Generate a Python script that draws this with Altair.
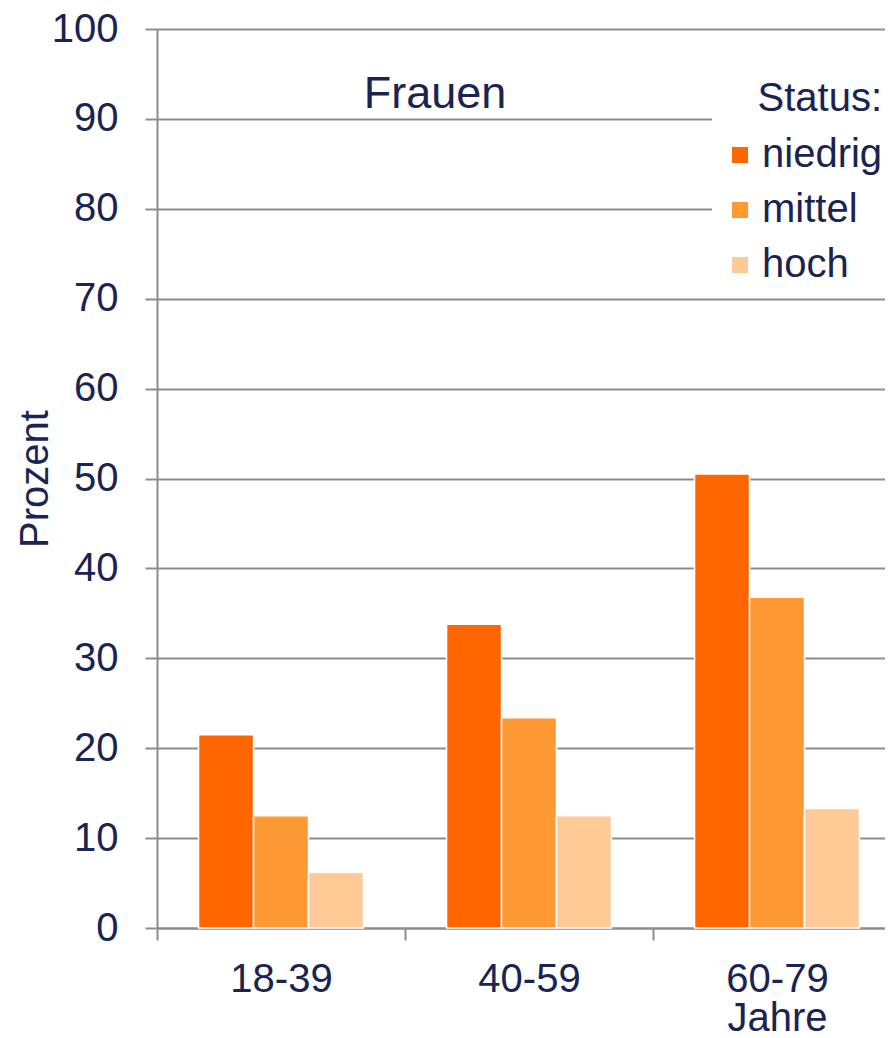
import altair as alt
import pandas as pd

groups = ["18-39", "40-59", "60-79"]
status = ["niedrig", "mittel", "hoch"]
niedrig = [21.5, 33.8, 50.5]
mittel = [12.5, 23.4, 36.8]
hoch = [6.2, 12.5, 13.3]
colors = ["#FF6600", "#FF9933", "#FFCA96"]
y_ticks = list(range(0, 101, 10))

rows = []
for i, g in enumerate(groups):
    for s, vals in zip(status, [niedrig, mittel, hoch]):
        rows.append({"Alter": g, "Status": s, "Prozent": vals[i]})
df = pd.DataFrame(rows)

TXT = "#1a2351"
GRID = "#8c8c8c"
FONT = "Liberation Sans"

bars = alt.Chart(df).mark_bar(stroke="white", strokeWidth=1.5).encode(
    x=alt.X(
        "Alter:N",
        sort=groups,
        scale=alt.Scale(paddingInner=0, paddingOuter=0),
        axis=alt.Axis(
            title=None,
            labelAngle=0,
            tickBand="extent",
            labelExpr="datum.value == '60-79' ? ['60-79', 'Jahre'] : datum.label",
            labelLineHeight=39,
            labelPadding=19,
            grid=False,
        ),
    ),
    xOffset=alt.XOffset(
        "Status:N", sort=status, scale=alt.Scale(paddingInner=0, paddingOuter=0.756)
    ),
    y=alt.Y(
        "Prozent:Q",
        scale=alt.Scale(domain=[0, 100]),
        axis=alt.Axis(
            values=y_ticks,
            title="Prozent",
            labelPadding=27,
            titlePadding=-4,
            grid=True,
        ),
    ),
    color=alt.Color(
        "Status:N",
        sort=status,
        scale=alt.Scale(domain=status, range=colors),
        legend=alt.Legend(
            title="Status:",
            orient="none",
            legendX=555,
            legendY=42,
            symbolType="square",
            symbolSize=256,
            symbolStrokeWidth=0,
            labelFontSize=40,
            titleFontSize=40,
            titleFontWeight="normal",
            titleAnchor="end",
            titlePadding=16,
            rowPadding=15,
            labelOffset=2,
            padding=8,
            fillColor="white",
            labelColor=TXT,
            titleColor=TXT,
            labelFont=FONT,
            titleFont=FONT,
        ),
    ),
)

title_df = pd.DataFrame({"t": ["Frauen"]})
title = alt.Chart(title_df).mark_text(
    fontSize=45, font=FONT, color=TXT, baseline="alphabetic", align="center"
).encode(text="t:N", x=alt.value(278), y=alt.value(79))

chart = (
    alt.layer(bars, title)
    .properties(
        width=744,
        height=899,
        padding={"left": 149, "top": 21, "right": -16, "bottom": 110},
        autosize=alt.AutoSizeParams(type="none"),
        background="white",
    )
    .configure_view(stroke=None)
    .configure_axis(
        labelFont=FONT,
        titleFont=FONT,
        labelFontSize=40,
        titleFontSize=40,
        titleFontWeight="normal",
        labelColor=TXT,
        titleColor=TXT,
        domainColor=GRID,
        domainWidth=2,
        tickColor=GRID,
        tickWidth=2,
        tickSize=12,
        gridColor=GRID,
        gridWidth=2,
    )
)

chart.save("out.html", embed_options={"renderer": "svg", "actions": False})
